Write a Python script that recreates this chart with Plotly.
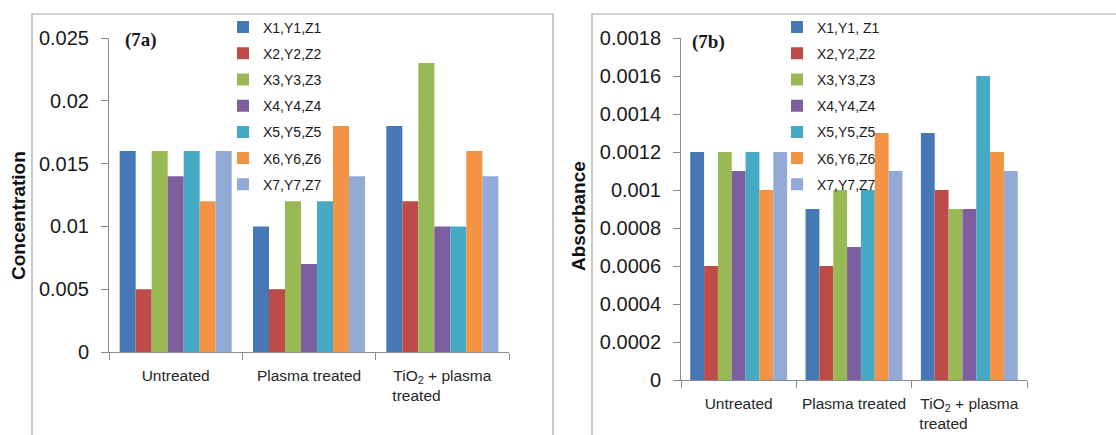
import plotly.graph_objects as go

# Sample groups on the category axis
categories = ["Untreated", "Plasma treated",
              "TiO<sub>2</sub> + plasma<br>treated" + "\u00a0" * 12]

# Series names for each panel
names_a = ["X1,Y1,Z1", "X2,Y2,Z2", "X3,Y3,Z3", "X4,Y4,Z4",
           "X5,Y5,Z5", "X6,Y6,Z6", "X7,Y7,Z7"]
names_b = ["X1,Y1, Z1", "X2,Y2,Z2", "X3,Y3,Z3", "X4,Y4,Z4",
           "X5,Y5,Z5", "X6,Y6,Z6", "X7,Y7,Z7"]

# Panel (7a): concentration, one list per series across the three groups
conc_1 = [0.016, 0.010, 0.018]
conc_2 = [0.005, 0.005, 0.012]
conc_3 = [0.016, 0.012, 0.023]
conc_4 = [0.014, 0.007, 0.010]
conc_5 = [0.016, 0.012, 0.010]
conc_6 = [0.012, 0.018, 0.016]
conc_7 = [0.016, 0.014, 0.014]

# Panel (7b): absorbance
abs_1 = [0.0012, 0.0009, 0.0013]
abs_2 = [0.0006, 0.0006, 0.0010]
abs_3 = [0.0012, 0.0010, 0.0009]
abs_4 = [0.0011, 0.0007, 0.0009]
abs_5 = [0.0012, 0.0010, 0.0016]
abs_6 = [0.0010, 0.0013, 0.0012]
abs_7 = [0.0012, 0.0011, 0.0011]

# Tick labels for the value axes
ticks_a = [0, 0.005, 0.01, 0.015, 0.02, 0.025]
ticklabels_a = ["0", "0.005", "0.01", "0.015", "0.02", "0.025"]
ticks_b = [0, 0.0002, 0.0004, 0.0006, 0.0008, 0.001, 0.0012, 0.0014, 0.0016, 0.0018]
ticklabels_b = ["0", "0.0002", "0.0004", "0.0006", "0.0008", "0.001",
                "0.0012", "0.0014", "0.0016", "0.0018"]

colors = ["#4778B6", "#BE4B48", "#98B954", "#7D5FA0", "#46AAC5", "#F39344", "#93AAD6"]

W, H = 1116, 435


def px(x):
    return x / W


def py(y):
    return 1 - y / H


conc = [conc_1, conc_2, conc_3, conc_4, conc_5, conc_6, conc_7]
absb = [abs_1, abs_2, abs_3, abs_4, abs_5, abs_6, abs_7]

fig = go.Figure()

for i, (name, vals) in enumerate(zip(names_a, conc)):
    fig.add_trace(go.Bar(
        x=categories, y=vals, name=name, xaxis="x", yaxis="y",
        marker=dict(color=colors[i], line=dict(width=0)),
        legend="legend", legendgroup="a%d" % i,
    ))

for i, (name, vals) in enumerate(zip(names_b, absb)):
    fig.add_trace(go.Bar(
        x=categories, y=vals, name=name, xaxis="x2", yaxis="y2",
        marker=dict(color=colors[i], line=dict(width=0)),
        legend="legend2", legendgroup="b%d" % i,
    ))

axis_color = "#8C8C8C"
tick_font = dict(family="Liberation Sans, Arial, sans-serif", size=20, color="#1A1A1A")
cat_font = dict(family="Liberation Sans, Arial, sans-serif", size=15.5, color="#262626")

common_x = dict(
    type="category", showgrid=False, zeroline=False, automargin=False,
    showline=True, linecolor=axis_color, linewidth=1,
    ticks="outside", tickson="boundaries", ticklen=7, tickcolor=axis_color,
    tickfont=cat_font, ticklabelstandoff=9, fixedrange=True,
)
common_y = dict(
    showgrid=False, zeroline=False, automargin=False,
    showline=True, linecolor=axis_color, linewidth=1,
    ticks="outside", ticklen=7, tickcolor=axis_color, tickfont=tick_font,
    ticklabelstandoff=8, fixedrange=True,
)

legend_common = dict(
    font=dict(family="Liberation Sans, Arial, sans-serif", size=14, color="#1A1A1A"),
    bgcolor="rgba(0,0,0,0)", borderwidth=0, traceorder="grouped",
    tracegroupgap=5.0, xanchor="left", yanchor="top",
    itemclick=False, itemdoubleclick=False,
)

fig.update_layout(
    template="none",
    width=W, height=H,
    margin=dict(l=0, r=0, t=0, b=0, autoexpand=False),
    paper_bgcolor="white", plot_bgcolor="white",
    barmode="group", bargap=0.16, bargroupgap=0,
    xaxis=dict(domain=[px(109), px(509)], anchor="y", **common_x),
    yaxis=dict(domain=[py(352), py(38)], anchor="x", range=[0, 0.025],
               tickvals=ticks_a, ticktext=ticklabels_a, **common_y),
    xaxis2=dict(domain=[px(681), px(1027)], anchor="y2", **common_x),
    yaxis2=dict(domain=[py(380), py(38)], anchor="x2", range=[0, 0.0018],
                tickvals=ticks_b, ticktext=ticklabels_b, **common_y),
    legend=dict(x=px(223), y=py(11.5), **legend_common),
    legend2=dict(x=px(777), y=py(11.5), **legend_common),
    showlegend=True,
    shapes=[
        dict(type="rect", xref="paper", yref="paper",
             x0=px(32), x1=px(553), y0=-0.1, y1=py(14),
             line=dict(color="#A6A6A6", width=1.2), layer="below"),
        dict(type="rect", xref="paper", yref="paper",
             x0=px(592), x1=1.1, y0=-0.1, y1=py(14),
             line=dict(color="#A6A6A6", width=1.2), layer="below"),
    ],
    annotations=[
        dict(text="<b>(7a)</b>", xref="paper", yref="paper", x=px(123), y=py(40),
             xanchor="left", yanchor="middle", showarrow=False,
             font=dict(family="Liberation Serif, Times New Roman, serif", size=19, color="#1A1A1A")),
        dict(text="<b>(7b)</b>", xref="paper", yref="paper", x=px(690), y=py(42),
             xanchor="left", yanchor="middle", showarrow=False,
             font=dict(family="Liberation Serif, Times New Roman, serif", size=19, color="#1A1A1A")),
        dict(text="<b>Concentration</b>", xref="paper", yref="paper", x=px(18), y=py(216),
             xanchor="center", yanchor="middle", textangle=-90, showarrow=False,
             font=dict(family="Liberation Sans, Arial, sans-serif", size=19, color="#111111")),
        dict(text="<b>Absorbance</b>", xref="paper", yref="paper", x=px(578), y=py(216),
             xanchor="center", yanchor="middle", textangle=-90, showarrow=False,
             font=dict(family="Liberation Sans, Arial, sans-serif", size=19, color="#111111")),
    ],
)

fig.write_html("out.html")
